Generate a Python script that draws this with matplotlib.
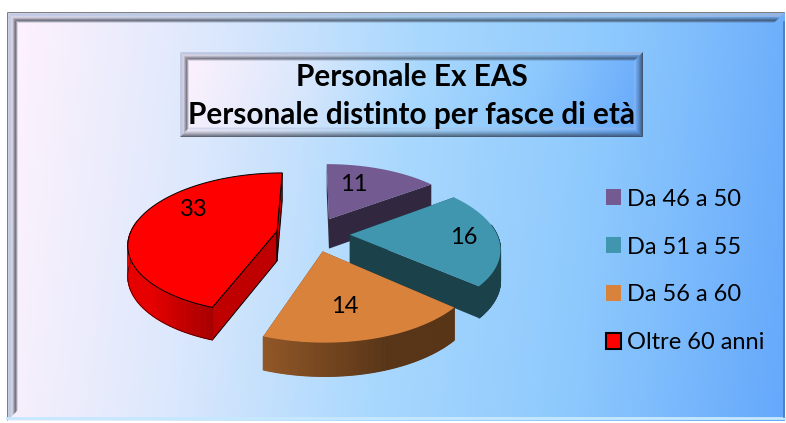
import numpy as np
import matplotlib
matplotlib.use("Agg")
import matplotlib.pyplot as plt
from matplotlib.patches import Polygon, Rectangle
from matplotlib.colors import LinearSegmentedColormap, to_rgb

labels = ["Da 46 a 50", "Da 51 a 55", "Da 56 a 60", "Oltre 60 anni"]
values = [11, 16, 14, 33]
top_colors = ["#735a90", "#3f96ae", "#d9823b", "#ff0000"]
title_lines = ["Personale Ex EAS", "Personale distinto per fasce di età"]
label_shift = [(-10, -2), (22, 1), (-6, 5), (4, -15)]

W, H = 786, 423
plt.rcParams["font.family"] = ["Lato", "DejaVu Sans"]
fig = plt.figure(figsize=(W / 100, H / 100), dpi=100)
ax = fig.add_axes([0, 0, 1, 1])
ax.axis("off")

bg_cmap = LinearSegmentedColormap.from_list("bg", ["#fff2fc", "#dce8fc", "#a9d8fe", "#8cc8fd", "#66a8fb"])

def gradient(x0, y0, x1, y1, z):
    xx, yy = np.meshgrid(np.linspace(0, 1, 200), np.linspace(0, 1, 40))
    ax.imshow(0.94 * xx + 0.06 * yy, extent=(x0, x1, y1, y0), cmap=bg_cmap,
              vmin=0, vmax=1, aspect="auto", zorder=z)

LIGHT, DARK = "#a8b8d8", "#303848"

def band(side, x0, y0, x1, y1, layers, z):
    """Mitred bevel strips, layer by layer from the outer edge inward."""
    for i, (c, a) in enumerate(layers):
        if side == "top":
            pts = [(x0 + i, y0 + i), (x1 - i, y0 + i), (x1 - i - 1, y0 + i + 1), (x0 + i + 1, y0 + i + 1)]
        elif side == "bottom":
            pts = [(x0 + i, y1 - i), (x1 - i, y1 - i), (x1 - i - 1, y1 - i - 1), (x0 + i + 1, y1 - i - 1)]
        elif side == "left":
            pts = [(x0 + i, y0 + i), (x0 + i, y1 - i), (x0 + i + 1, y1 - i - 1), (x0 + i + 1, y0 + i + 1)]
        else:
            pts = [(x1 - i, y0 + i), (x1 - i, y1 - i), (x1 - i - 1, y1 - i - 1), (x1 - i - 1, y0 + i + 1)]
        ax.add_patch(Polygon(pts, fc=c, alpha=a, ec="none", zorder=z))

gradient(7, 12, 785, 421, 0)
frame = [("#808080", 1), (LIGHT, .6), (LIGHT, .7), (LIGHT, .65), (LIGHT, .5), (DARK, .2),
         (DARK, .35), (DARK, .55), (DARK, .65), (DARK, .45), (DARK, .15)]
band("top", 7, 12, 785, 421, frame, 1)
band("left", 7, 12, 785, 421, frame, 1)
ax.plot([7, 785], [418, 418], color="#c6e8ff", lw=2.0, zorder=2)
ax.plot([784, 784], [22, 417], color="#4a78c0", lw=1.2, zorder=2)

gradient(180, 52, 643, 137, 3)
box_in = [(LIGHT, .65), (LIGHT, .75), (LIGHT, .6), (DARK, .18), (DARK, .32), (DARK, .48), (DARK, .62), (DARK, .42), (DARK, .15)]
box_out = [(DARK, .75), (DARK, .6), (DARK, .48), (DARK, .36), (DARK, .25), (DARK, .15), (DARK, .07), (LIGHT, .25), (LIGHT, .4), (LIGHT, .2)]
band("top", 180, 52, 643, 137, box_in, 4)
band("left", 180, 52, 643, 137, box_in, 4)
band("right", 180, 52, 643, 137, box_out, 4)
band("bottom", 180, 52, 643, 137, box_out, 4)
ax.text(411.5, 77, title_lines[0], ha="center", va="center", fontsize=21.4, fontweight="bold", color="black", zorder=6)
ax.text(411.5, 115, title_lines[1], ha="center", va="center", fontsize=21.4, fontweight="bold", color="black", zorder=6)

# perspective projection of the disc
CX, CY, A, B, K, DEPTH, EXPLODE = 313.0, 234.0, 147.0, 69.0, 0.17, 30.0, 0.25

def project(x, y, z=0.0):
    w = 1 + K * np.asarray(y)
    return CX + A * np.asarray(x) / w, CY - B * np.asarray(y) / w + z * DEPTH / np.sqrt(w)

def shade(c, f):
    return tuple(min(1, v * f) for v in to_rgb(c))

edges = np.concatenate([[0], np.cumsum(values)]) / np.sum(values) * 2 * np.pi
order = [0, 1, 3, 2]
for i in order:
    a0, a1 = edges[i], edges[i + 1]
    mid = (a0 + a1) / 2
    ox, oy = EXPLODE * np.sin(mid), EXPLODE * np.cos(mid)
    col = top_colors[i]
    t = np.linspace(a0, a1, 120)
    xs, ys = ox + np.sin(t), oy + np.cos(t)
    z = 10 + order.index(i)
    edge = "black" if i == 3 else "none"
    elw = 0.7 if i == 3 else 0
    face = 0.75 if i == 3 else 0.43
    for ang in (a0, a1):
        ex, ey = [ox, ox + np.sin(ang)], [oy, oy + np.cos(ang)]
        px0, py0 = project(ex, ey, 0)
        px1, py1 = project(ex, ey, 1)
        ax.add_patch(Polygon(np.column_stack([np.r_[px0, px1[::-1]], np.r_[py0, py1[::-1]]]),
                             fc=shade(col, face), ec=edge, lw=elw, zorder=z))
    for j in range(len(t) - 1):
        if np.cos((t[j] + t[j + 1]) / 2) > 0.15:
            continue
        sx = np.sin(t[j])
        f = {0: .45, 1: .43, 2: max(.41, .67 - .42 * (sx + .33) / 1.08), 3: .66 + .24 * min(1, (-sx - .33) / .4)}[i]
        px0, py0 = project(xs[j:j + 2], ys[j:j + 2], 0)
        px1, py1 = project(xs[j:j + 2], ys[j:j + 2], 1)
        ax.add_patch(Polygon(np.column_stack([np.r_[px0, px1[::-1]], np.r_[py0, py1[::-1]]]),
                             fc=shade(col, f), ec=shade(col, f), lw=0.8, zorder=z))
    if i == 3:
        m = np.cos(t) < .15
        px1, py1 = project(xs, ys, 1)
        ax.plot(px1[m], py1[m], color="#400000", lw=0.5, zorder=z + .2)
    px, py = project(np.r_[ox, xs], np.r_[oy, ys], 0)
    ax.add_patch(Polygon(np.column_stack([px, py]), fc=col, ec=edge, lw=elw, zorder=z + .5))
    lx, ly = project(ox + 0.62 * np.sin(mid), oy + 0.62 * np.cos(mid), 0)
    ax.text(lx + label_shift[i][0], ly + label_shift[i][1], str(values[i]), ha="center", va="center",
            fontsize=17, color="black", zorder=30)

handles = [Rectangle((0, 0), 1, 1, fc=c, ec="black" if n == 3 else "none", lw=1.5)
           for n, c in enumerate(top_colors)]
ax.legend(handles, labels, loc="center left", bbox_to_anchor=(606 / W, 1 - 271 / H), frameon=False,
          fontsize=17, handlelength=0.65, handleheight=0.65, handletextpad=0.25, labelspacing=1.14,
          borderpad=0, borderaxespad=0).set_zorder(40)

ax.set_xlim(0, W)
ax.set_ylim(H, 0)
fig.savefig("out.png", dpi=100, facecolor="white")
